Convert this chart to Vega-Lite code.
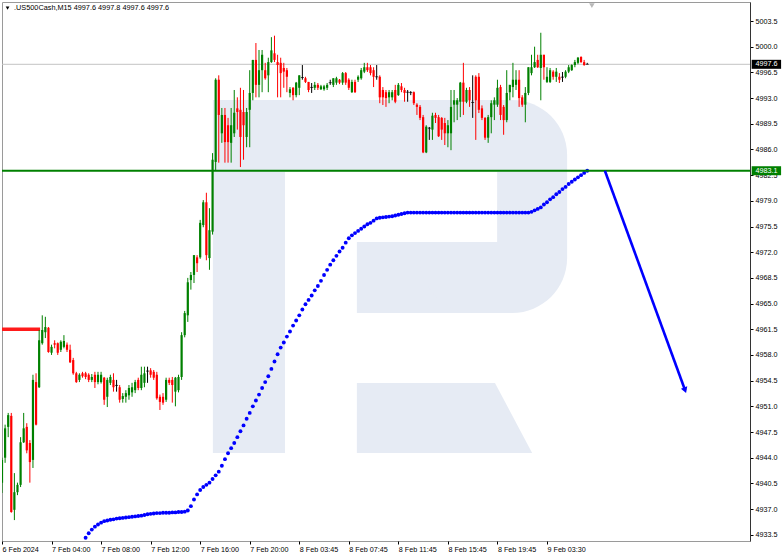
{
"$schema": "https://vega.github.io/schema/vega-lite/v6.json",
"width": 748, "height": 539,
"autosize": "none",
"padding": {"left": 2, "top": 2, "right": 32, "bottom": 14},
"background": "white",
"config": {"view": {"stroke": "#9a9a9a", "strokeWidth": 1}, "font": "Liberation Sans"},
"data": {"values": [{"one": 1}]},
"resolve": {"axis": {"x": "independent", "y": "independent"}},
"datasets": {
"candles": [
{"i":0,"o":4940.6,"h":4944.0,"l":4939.2,"c":4943.7},
{"i":1,"o":4944.0,"h":4948.5,"l":4943.3,"c":4948.0},
{"i":2,"o":4948.2,"h":4950.1,"l":4946.8,"c":4949.8},
{"i":3,"o":4949.7,"h":4950.1,"l":4936.5,"c":4936.6},
{"i":4,"o":4936.9,"h":4941.9,"l":4935.5,"c":4939.3},
{"i":5,"o":4939.3,"h":4940.6,"l":4938.9,"c":4940.3},
{"i":6,"o":4940.3,"h":4946.8,"l":4940.0,"c":4946.1},
{"i":7,"o":4946.1,"h":4950.1,"l":4946.0,"c":4948.0},
{"i":8,"o":4948.2,"h":4948.7,"l":4944.6,"c":4945.0},
{"i":9,"o":4946.0,"h":4946.4,"l":4940.6,"c":4943.4},
{"i":10,"o":4943.7,"h":4955.3,"l":4942.6,"c":4954.6},
{"i":11,"o":4954.3,"h":4955.5,"l":4948.4,"c":4948.5},
{"i":12,"o":4953.6,"h":4961.4,"l":4953.5,"c":4960.0},
{"i":13,"o":4959.6,"h":4963.4,"l":4959.4,"c":4961.4},
{"i":14,"o":4961.1,"h":4963.2,"l":4960.3,"c":4961.8},
{"i":15,"o":4961.7,"h":4961.8,"l":4958.3,"c":4958.4},
{"i":16,"o":4958.3,"h":4959.4,"l":4958.0,"c":4959.1},
{"i":17,"o":4959.6,"h":4960.0,"l":4958.9,"c":4959.4},
{"i":18,"o":4959.6,"h":4959.7,"l":4958.0,"c":4958.3},
{"i":19,"o":4958.7,"h":4960.0,"l":4958.4,"c":4959.8},
{"i":20,"o":4959.1,"h":4960.7,"l":4958.9,"c":4959.9},
{"i":21,"o":4959.4,"h":4959.7,"l":4958.4,"c":4958.7},
{"i":22,"o":4958.7,"h":4959.4,"l":4956.9,"c":4957.0},
{"i":23,"o":4957.3,"h":4957.6,"l":4955.3,"c":4955.5},
{"i":24,"o":4955.5,"h":4955.7,"l":4954.2,"c":4954.3},
{"i":25,"o":4954.6,"h":4955.5,"l":4954.3,"c":4955.3},
{"i":26,"o":4955.5,"h":4955.7,"l":4954.9,"c":4955.1},
{"i":27,"o":4955.5,"h":4955.7,"l":4954.7,"c":4955.0},
{"i":28,"o":4955.3,"h":4955.5,"l":4954.3,"c":4954.6},
{"i":29,"o":4954.6,"h":4955.4,"l":4954.3,"c":4955.0},
{"i":30,"o":4955.3,"h":4955.7,"l":4953.5,"c":4954.3},
{"i":31,"o":4954.3,"h":4955.7,"l":4954.0,"c":4955.3},
{"i":32,"o":4954.3,"h":4955.7,"l":4954.1,"c":4955.3},
{"i":33,"o":4954.9,"h":4955.0,"l":4951.2,"c":4951.9},
{"i":34,"o":4952.3,"h":4954.9,"l":4950.9,"c":4954.6},
{"i":35,"o":4954.2,"h":4955.3,"l":4953.9,"c":4955.0},
{"i":36,"o":4954.6,"h":4955.5,"l":4953.0,"c":4953.6},
{"i":37,"o":4953.85,"h":4954.6,"l":4953.0,"c":4953.85},
{"i":38,"o":4953.6,"h":4953.9,"l":4951.5,"c":4951.9},
{"i":39,"o":4952.0,"h":4952.8,"l":4951.5,"c":4952.4},
{"i":40,"o":4952.3,"h":4953.2,"l":4951.5,"c":4952.8},
{"i":41,"o":4952.5,"h":4953.9,"l":4951.9,"c":4953.5},
{"i":42,"o":4952.9,"h":4954.2,"l":4952.3,"c":4953.6},
{"i":43,"o":4953.2,"h":4954.6,"l":4952.8,"c":4954.3},
{"i":44,"o":4954.6,"h":4954.9,"l":4953.2,"c":4953.5},
{"i":45,"o":4953.5,"h":4956.4,"l":4953.2,"c":4955.3},
{"i":46,"o":4954.2,"h":4956.4,"l":4953.6,"c":4955.5},
{"i":47,"o":4955.8,"h":4956.4,"l":4954.2,"c":4955.8},
{"i":48,"o":4955.9,"h":4956.2,"l":4954.9,"c":4955.3},
{"i":49,"o":4955.7,"h":4955.95,"l":4954.6,"c":4954.9},
{"i":50,"o":4955.3,"h":4955.7,"l":4951.9,"c":4952.1},
{"i":51,"o":4952.3,"h":4952.6,"l":4950.5,"c":4951.6},
{"i":52,"o":4952.3,"h":4952.8,"l":4951.2,"c":4951.5},
{"i":53,"o":4951.9,"h":4954.9,"l":4951.6,"c":4954.6},
{"i":54,"o":4954.6,"h":4954.9,"l":4953.9,"c":4954.2},
{"i":55,"o":4954.6,"h":4955.0,"l":4951.5,"c":4953.9},
{"i":56,"o":4953.0,"h":4955.0,"l":4951.0,"c":4954.9},
{"i":57,"o":4953.2,"h":4955.3,"l":4952.9,"c":4955.0},
{"i":58,"o":4955.0,"h":4961.1,"l":4954.6,"c":4960.7},
{"i":59,"o":4960.7,"h":4964.0,"l":4960.4,"c":4963.7},
{"i":60,"o":4963.4,"h":4968.5,"l":4962.5,"c":4967.9},
{"i":61,"o":4968.2,"h":4969.3,"l":4966.9,"c":4968.9},
{"i":62,"o":4968.9,"h":4971.6,"l":4967.8,"c":4971.6},
{"i":63,"o":4971.3,"h":4971.6,"l":4969.3,"c":4970.5},
{"i":64,"o":4971.3,"h":4976.4,"l":4971.1,"c":4976.0},
{"i":65,"o":4975.7,"h":4979.1,"l":4975.4,"c":4978.8},
{"i":66,"o":4978.8,"h":4980.1,"l":4970.9,"c":4971.6},
{"i":67,"o":4971.2,"h":4978.0,"l":4969.6,"c":4975.0},
{"i":68,"o":4974.8,"h":4985.5,"l":4974.4,"c":4984.6},
{"i":69,"o":4984.3,"h":4995.7,"l":4983.2,"c":4995.5},
{"i":70,"o":4995.5,"h":4996.1,"l":4984.2,"c":4990.7},
{"i":71,"o":4988.2,"h":4991.65,"l":4986.9,"c":4990.7},
{"i":72,"o":4990.7,"h":4991.65,"l":4984.2,"c":4987.0},
{"i":73,"o":4989.3,"h":4990.3,"l":4984.2,"c":4987.0},
{"i":74,"o":4986.9,"h":4991.65,"l":4984.2,"c":4989.3},
{"i":75,"o":4988.2,"h":4994.1,"l":4987.7,"c":4991.0},
{"i":76,"o":4991.6,"h":4993.1,"l":4988.7,"c":4991.1},
{"i":77,"o":4991.4,"h":4994.4,"l":4983.6,"c":4987.7},
{"i":78,"o":4991.1,"h":4994.1,"l":4984.6,"c":4989.3},
{"i":79,"o":4987.7,"h":4991.65,"l":4986.3,"c":4991.1},
{"i":80,"o":4991.4,"h":4996.8,"l":4986.3,"c":4993.7},
{"i":81,"o":4993.7,"h":4998.2,"l":4992.7,"c":4998.2},
{"i":82,"o":4998.2,"h":5000.5,"l":4993.1,"c":4994.8},
{"i":83,"o":4994.8,"h":4999.55,"l":4993.1,"c":4996.8},
{"i":84,"o":4996.8,"h":4999.55,"l":4993.8,"c":4998.9},
{"i":85,"o":4996.8,"h":4997.8,"l":4995.5,"c":4995.7},
{"i":86,"o":4996.1,"h":4998.5,"l":4993.8,"c":4997.9},
{"i":87,"o":4997.9,"h":5001.3,"l":4997.8,"c":4999.5},
{"i":88,"o":4999.1,"h":5001.5,"l":4997.9,"c":4998.2},
{"i":89,"o":4997.9,"h":4998.9,"l":4993.1,"c":4997.5},
{"i":90,"o":4997.8,"h":4998.5,"l":4993.1,"c":4996.4},
{"i":91,"o":4997.1,"h":4997.8,"l":4994.4,"c":4996.6},
{"i":92,"o":4996.8,"h":4997.1,"l":4993.8,"c":4995.9},
{"i":93,"o":4993.7,"h":4994.5,"l":4993.1,"c":4994.2},
{"i":94,"o":4994.4,"h":4994.5,"l":4992.7,"c":4993.4},
{"i":95,"o":4993.4,"h":4995.2,"l":4993.1,"c":4995.1},
{"i":96,"o":4994.4,"h":4996.1,"l":4993.4,"c":4996.1},
{"i":97,"o":4995.8,"h":4997.5,"l":4995.5,"c":4995.8},
{"i":98,"o":4995.7,"h":4995.9,"l":4995.05,"c":4995.2},
{"i":99,"o":4995.2,"h":4995.2,"l":4993.8,"c":4994.1},
{"i":100,"o":4994.45,"h":4995.05,"l":4993.7,"c":4994.45},
{"i":101,"o":4994.4,"h":4995.2,"l":4994.1,"c":4994.8},
{"i":102,"o":4994.8,"h":4995.05,"l":4994.1,"c":4994.4},
{"i":103,"o":4994.2,"h":4994.8,"l":4994.1,"c":4994.6},
{"i":104,"o":4994.2,"h":4994.8,"l":4994.0,"c":4994.6},
{"i":105,"o":4994.4,"h":4995.05,"l":4994.1,"c":4994.8},
{"i":106,"o":4995.1,"h":4995.5,"l":4994.8,"c":4995.1},
{"i":107,"o":4994.8,"h":4995.7,"l":4994.5,"c":4995.7},
{"i":108,"o":4995.1,"h":4995.9,"l":4994.8,"c":4995.7},
{"i":109,"o":4995.5,"h":4995.6,"l":4994.9,"c":4995.1},
{"i":110,"o":4995.1,"h":4996.55,"l":4994.8,"c":4996.4},
{"i":111,"o":4996.4,"h":4996.55,"l":4994.8,"c":4995.1},
{"i":112,"o":4995.5,"h":4995.7,"l":4994.1,"c":4994.4},
{"i":113,"o":4993.8,"h":4995.5,"l":4993.7,"c":4995.2},
{"i":114,"o":4995.2,"h":4995.5,"l":4993.7,"c":4993.8},
{"i":115,"o":4995.5,"h":4996.1,"l":4995.2,"c":4995.9},
{"i":116,"o":4995.7,"h":4997.1,"l":4995.5,"c":4996.8},
{"i":117,"o":4996.6,"h":4997.8,"l":4996.4,"c":4997.2},
{"i":118,"o":4997.2,"h":4997.8,"l":4996.55,"c":4996.8},
{"i":119,"o":4997.2,"h":4997.5,"l":4996.1,"c":4996.4},
{"i":120,"o":4996.8,"h":4997.2,"l":4994.5,"c":4995.9},
{"i":121,"o":4995.9,"h":4997.5,"l":4995.5,"c":4995.9},
{"i":122,"o":4995.9,"h":4996.1,"l":4992.3,"c":4993.1},
{"i":123,"o":4994.1,"h":4994.5,"l":4992.05,"c":4993.1},
{"i":124,"o":4993.8,"h":4994.1,"l":4991.8,"c":4993.0},
{"i":125,"o":4993.1,"h":4994.1,"l":4992.3,"c":4993.8},
{"i":126,"o":4993.1,"h":4994.1,"l":4992.7,"c":4993.8},
{"i":127,"o":4994.1,"h":4994.8,"l":4992.3,"c":4992.5},
{"i":128,"o":4993.4,"h":4995.05,"l":4993.3,"c":4994.8},
{"i":129,"o":4994.6,"h":4995.05,"l":4993.8,"c":4994.1},
{"i":130,"o":4994.1,"h":4994.4,"l":4992.5,"c":4993.7},
{"i":131,"o":4993.8,"h":4994.1,"l":4992.5,"c":4993.8},
{"i":132,"o":4993.75,"h":4993.95,"l":4993.4,"c":4993.75},
{"i":133,"o":4993.8,"h":4993.9,"l":4992.05,"c":4992.3},
{"i":134,"o":4992.1,"h":4992.3,"l":4990.7,"c":4991.8},
{"i":135,"o":4991.8,"h":4992.05,"l":4990.0,"c":4990.3},
{"i":136,"o":4990.4,"h":4990.7,"l":4985.5,"c":4985.6},
{"i":137,"o":4985.6,"h":4989.3,"l":4985.5,"c":4989.1},
{"i":138,"o":4988.9,"h":4989.06,"l":4987.3,"c":4988.9},
{"i":139,"o":4988.7,"h":4991.0,"l":4987.3,"c":4990.6},
{"i":140,"o":4990.7,"h":4991.0,"l":4989.6,"c":4990.3},
{"i":141,"o":4990.4,"h":4990.7,"l":4987.7,"c":4987.8},
{"i":142,"o":4990.3,"h":4990.4,"l":4987.3,"c":4988.7},
{"i":143,"o":4989.6,"h":4990.3,"l":4986.6,"c":4988.2},
{"i":144,"o":4988.2,"h":4990.0,"l":4986.3,"c":4989.3},
{"i":145,"o":4988.2,"h":4994.1,"l":4985.9,"c":4991.8},
{"i":146,"o":4992.1,"h":4994.1,"l":4989.7,"c":4992.7},
{"i":147,"o":4992.1,"h":4993.0,"l":4990.0,"c":4992.7},
{"i":148,"o":4992.5,"h":4995.2,"l":4990.4,"c":4995.1},
{"i":149,"o":4995.1,"h":4997.8,"l":4990.7,"c":4992.5},
{"i":150,"o":4992.5,"h":4994.4,"l":4992.3,"c":4994.1},
{"i":151,"o":4994.1,"h":4994.5,"l":4991.8,"c":4992.7},
{"i":152,"o":4992.4,"h":4996.1,"l":4990.3,"c":4992.4},
{"i":153,"o":4995.9,"h":4996.1,"l":4987.3,"c":4992.7},
{"i":154,"o":4995.9,"h":4996.4,"l":4990.96,"c":4991.4},
{"i":155,"o":4991.6,"h":4992.0,"l":4990.0,"c":4990.3},
{"i":156,"o":4990.3,"h":4990.4,"l":4987.3,"c":4987.6},
{"i":157,"o":4987.6,"h":4990.7,"l":4986.9,"c":4990.4},
{"i":158,"o":4990.4,"h":4992.7,"l":4988.2,"c":4992.3},
{"i":159,"o":4992.1,"h":4993.1,"l":4990.0,"c":4992.7},
{"i":160,"o":4992.1,"h":4995.5,"l":4991.8,"c":4994.4},
{"i":161,"o":4994.5,"h":4994.8,"l":4990.0,"c":4990.7},
{"i":162,"o":4991.8,"h":4992.05,"l":4988.0,"c":4990.0},
{"i":163,"o":4990.0,"h":4996.8,"l":4989.7,"c":4993.7},
{"i":164,"o":4993.8,"h":4994.8,"l":4992.7,"c":4994.8},
{"i":165,"o":4994.5,"h":4997.8,"l":4993.1,"c":4995.5},
{"i":166,"o":4994.8,"h":4996.8,"l":4994.1,"c":4995.5},
{"i":167,"o":4995.5,"h":4996.8,"l":4991.8,"c":4993.0},
{"i":168,"o":4993.1,"h":4993.4,"l":4991.8,"c":4992.1},
{"i":169,"o":4992.1,"h":4994.5,"l":4989.7,"c":4993.7},
{"i":170,"o":4993.7,"h":4997.2,"l":4993.4,"c":4997.2},
{"i":171,"o":4996.4,"h":4998.9,"l":4996.1,"c":4997.2},
{"i":172,"o":4997.2,"h":5000.0,"l":4997.1,"c":4997.9},
{"i":173,"o":4998.2,"h":4998.9,"l":4997.1,"c":4997.2},
{"i":174,"o":4997.1,"h":5001.9,"l":4992.7,"c":4998.9},
{"i":175,"o":4998.9,"h":4998.9,"l":4995.5,"c":4997.2},
{"i":176,"o":4995.2,"h":4997.2,"l":4995.05,"c":4995.9},
{"i":177,"o":4995.2,"h":4997.1,"l":4995.05,"c":4996.8},
{"i":178,"o":4996.6,"h":4996.8,"l":4995.5,"c":4995.9},
{"i":179,"o":4995.9,"h":4997.1,"l":4995.2,"c":4996.6},
{"i":180,"o":4995.9,"h":4996.4,"l":4995.05,"c":4995.5},
{"i":181,"o":4995.85,"h":4996.55,"l":4995.2,"c":4995.85},
{"i":182,"o":4995.9,"h":4996.8,"l":4995.7,"c":4996.6},
{"i":183,"o":4996.6,"h":4997.5,"l":4996.4,"c":4997.2},
{"i":184,"o":4996.8,"h":4997.6,"l":4996.7,"c":4997.5},
{"i":185,"o":4997.5,"h":4998.2,"l":4997.2,"c":4997.9},
{"i":186,"o":4997.8,"h":4998.6,"l":4997.6,"c":4998.5},
{"i":187,"o":4998.6,"h":4998.7,"l":4997.8,"c":4997.9},
{"i":188,"o":4997.9,"h":4998.2,"l":4997.4,"c":4997.5},
{"i":189,"o":4997.6,"h":4997.8,"l":4997.6,"c":4997.6}
],
"ma": [
{"i":27,"v":4933.1},{"i":28,"v":4933.7},{"i":29,"v":4934.2},{"i":30,"v":4934.6},{"i":31,"v":4934.9},{"i":32,"v":4935.15},{"i":33,"v":4935.35},{"i":34,"v":4935.45},{"i":35,"v":4935.55},{"i":36,"v":4935.6},{"i":37,"v":4935.7},{"i":38,"v":4935.75},{"i":39,"v":4935.8},{"i":40,"v":4935.85},{"i":41,"v":4935.9},{"i":42,"v":4935.95},{"i":43,"v":4936.0},{"i":44,"v":4936.05},{"i":45,"v":4936.1},{"i":46,"v":4936.2},{"i":47,"v":4936.3},{"i":48,"v":4936.35},{"i":49,"v":4936.4},{"i":50,"v":4936.45},{"i":51,"v":4936.45},{"i":52,"v":4936.5},{"i":53,"v":4936.5},{"i":54,"v":4936.5},{"i":55,"v":4936.55},{"i":56,"v":4936.55},{"i":57,"v":4936.6},{"i":58,"v":4936.6},{"i":59,"v":4936.65},{"i":60,"v":4936.8},{"i":61,"v":4937.4},{"i":62,"v":4938.3},{"i":63,"v":4939.0},{"i":64,"v":4939.6},{"i":65,"v":4940.0},{"i":66,"v":4940.3},{"i":67,"v":4940.6},{"i":68,"v":4941.1},{"i":69,"v":4941.6},{"i":70,"v":4942.1},{"i":71,"v":4942.9},{"i":72,"v":4943.8},{"i":73,"v":4944.6},{"i":74,"v":4945.3},{"i":75,"v":4946.0},{"i":76,"v":4946.8},{"i":77,"v":4947.6},{"i":78,"v":4948.4},{"i":79,"v":4949.3},{"i":80,"v":4950.1},{"i":81,"v":4951.0},{"i":82,"v":4951.8},{"i":83,"v":4952.6},{"i":84,"v":4953.5},{"i":85,"v":4954.3},{"i":86,"v":4955.1},{"i":87,"v":4956.1},{"i":88,"v":4957.1},{"i":89,"v":4958.1},{"i":90,"v":4959.0},{"i":91,"v":4959.7},{"i":92,"v":4960.5},{"i":93,"v":4961.2},{"i":94,"v":4962.0},{"i":95,"v":4962.7},{"i":96,"v":4963.4},{"i":97,"v":4964.2},{"i":98,"v":4964.9},{"i":99,"v":4965.5},{"i":100,"v":4966.1},{"i":101,"v":4966.8},{"i":102,"v":4967.4},{"i":103,"v":4968.1},{"i":104,"v":4968.9},{"i":105,"v":4969.6},{"i":106,"v":4970.3},{"i":107,"v":4970.9},{"i":108,"v":4971.5},{"i":109,"v":4972.1},{"i":110,"v":4972.6},{"i":111,"v":4973.3},{"i":112,"v":4973.9},{"i":113,"v":4974.3},{"i":114,"v":4974.6},{"i":115,"v":4974.9},{"i":116,"v":4975.2},{"i":117,"v":4975.5},{"i":118,"v":4975.8},{"i":119,"v":4976.0},{"i":120,"v":4976.3},{"i":121,"v":4976.6},{"i":122,"v":4976.7},{"i":123,"v":4976.75},{"i":124,"v":4976.8},{"i":125,"v":4976.85},{"i":126,"v":4976.9},{"i":127,"v":4977.0},{"i":128,"v":4977.1},{"i":129,"v":4977.2},{"i":130,"v":4977.3},
{"i":131,"v":4977.4},{"i":132,"v":4977.4},{"i":133,"v":4977.4},{"i":134,"v":4977.4},{"i":135,"v":4977.4},{"i":136,"v":4977.4},{"i":137,"v":4977.4},{"i":138,"v":4977.4},{"i":139,"v":4977.4},{"i":140,"v":4977.4},{"i":141,"v":4977.4},{"i":142,"v":4977.4},{"i":143,"v":4977.4},{"i":144,"v":4977.4},{"i":145,"v":4977.4},{"i":146,"v":4977.4},{"i":147,"v":4977.4},{"i":148,"v":4977.4},{"i":149,"v":4977.4},{"i":150,"v":4977.4},{"i":151,"v":4977.4},{"i":152,"v":4977.4},{"i":153,"v":4977.4},{"i":154,"v":4977.4},{"i":155,"v":4977.4},{"i":156,"v":4977.4},{"i":157,"v":4977.4},{"i":158,"v":4977.4},{"i":159,"v":4977.4},{"i":160,"v":4977.4},{"i":161,"v":4977.4},{"i":162,"v":4977.4},{"i":163,"v":4977.4},{"i":164,"v":4977.4},{"i":165,"v":4977.4},{"i":166,"v":4977.4},{"i":167,"v":4977.4},{"i":168,"v":4977.4},{"i":169,"v":4977.4},{"i":170,"v":4977.4},
{"i":171,"v":4977.5},{"i":172,"v":4977.7},{"i":173,"v":4977.9},{"i":174,"v":4978.1},{"i":175,"v":4978.5},{"i":176,"v":4978.8},{"i":177,"v":4979.2},{"i":178,"v":4979.5},{"i":179,"v":4979.9},{"i":180,"v":4980.2},{"i":181,"v":4980.6},{"i":182,"v":4980.9},{"i":183,"v":4981.3},{"i":184,"v":4981.6},{"i":185,"v":4981.9},{"i":186,"v":4982.2},{"i":187,"v":4982.5},{"i":188,"v":4982.8},{"i":189,"v":4983.1}
],
"leg": [
{"p":4954.18,"a":114.6,"b":159.2},
{"p":4944.64,"a":114.6,"b":171.2}
],
"levels": [
{"level":4997.6,"label":"4997.6","box":"#000000"},
{"level":4983.1,"label":"4983.1","box":"#008000"}
]
},
"layer": [
{
"mark": {"type":"rect","color":"#e6ebf4"},
"encoding": {
"x": {"datum":68.1,"type":"quantitative","scale":{"domain":[0,241.56],"nice":false,"zero":false},"axis":null},
"x2": {"datum":91.4},
"y": {"datum":4992.74,"type":"quantitative","scale":{"domain":[4932.65,5006.09],"nice":false,"zero":false},"axis":null},
"y2": {"datum":4944.64}
}
},
{
"mark": {"type":"rect","color":"#e6ebf4"},
"encoding": {
"x": {"datum":91.4,"type":"quantitative","scale":{"domain":[0,241.56],"nice":false,"zero":false},"axis":null},
"x2": {"datum":155},
"y": {"datum":4992.74,"type":"quantitative","scale":{"domain":[4932.65,5006.09],"nice":false,"zero":false},"axis":null},
"y2": {"datum":4982.93}
}
},
{
"mark": {"type":"rect","color":"#e6ebf4"},
"encoding": {
"x": {"datum":114.6,"type":"quantitative","scale":{"domain":[0,241.56],"nice":false,"zero":false},"axis":null},
"x2": {"datum":155},
"y": {"datum":4973.39,"type":"quantitative","scale":{"domain":[4932.65,5006.09],"nice":false,"zero":false},"axis":null},
"y2": {"datum":4963.72}
}
},
{
"mark": {"type":"rect","color":"#e6ebf4","cornerRadius":55},
"encoding": {
"x": {"datum":135,"type":"quantitative","scale":{"domain":[0,241.56],"nice":false,"zero":false},"axis":null},
"x2": {"datum":182.5},
"y": {"datum":4992.74,"type":"quantitative","scale":{"domain":[4932.65,5006.09],"nice":false,"zero":false},"axis":null},
"y2": {"datum":4963.72}
}
},
{
"mark": {"type":"rect","color":"#ffffff"},
"encoding": {
"x": {"datum":130,"type":"quantitative","scale":{"domain":[0,241.56],"nice":false,"zero":false},"axis":null},
"x2": {"datum":159.9},
"y": {"datum":4982.93,"type":"quantitative","scale":{"domain":[4932.65,5006.09],"nice":false,"zero":false},"axis":null},
"y2": {"datum":4973.39}
}
},
{
"data": {"name":"leg"},
"mark": {"type":"area","orient":"horizontal","color":"#e6ebf4"},
"encoding": {
"y": {"field":"p","type":"quantitative","scale":{"domain":[4932.65,5006.09],"nice":false,"zero":false},"axis":null},
"x": {"field":"a","type":"quantitative","scale":{"domain":[0,241.56],"nice":false,"zero":false},"axis":null},
"x2": {"field":"b"}
}
},
{
"mark": {"type":"rule","color":"#c4c4c4","strokeWidth":1},
"encoding": {
"y": {"datum":4997.6,"type":"quantitative","scale":{"domain":[4932.65,5006.09],"nice":false,"zero":false},"axis":null}
}
},
{
"mark": {"type":"rule","color":"#ff1a1a","strokeWidth":3.6},
"encoding": {
"x": {"datum":0,"type":"quantitative","scale":{"domain":[0,241.56],"nice":false,"zero":false},"axis":null},
"x2": {"datum":12.3},
"y": {"datum":4961.5,"type":"quantitative","scale":{"domain":[4932.65,5006.09],"nice":false,"zero":false},"axis":null}
}
},
{
"data": {"name":"candles"},
"mark": {"type":"rule","strokeWidth":1,"clip":true},
"encoding": {
"x": {"field":"i","type":"quantitative","scale":{"domain":[0,241.56],"nice":false,"zero":false},
 "axis":{"values":[0,16,32,48,64,80,96,112,128,144,160,176],
 "labelExpr":"['6 Feb 2024','7 Feb 04:00','7 Feb 08:00','7 Feb 12:00','7 Feb 16:00','7 Feb 20:00','8 Feb 03:45','8 Feb 07:45','8 Feb 11:45','8 Feb 15:45','8 Feb 19:45','9 Feb 03:30'][round(datum.value/16)]",
 "labelAlign":"left","labelBaseline":"top","labelDx":1,"labelPadding":1,"tickSize":3,"tickColor":"#000000","labelColor":"#000000","labelFontSize":7.2,"labelFont":"Liberation Sans","domain":false,"grid":false,"title":null,"labelFlush":false,"labelOverlap":false,"labelBound":false}},
"y": {"field":"l","type":"quantitative","scale":{"domain":[4932.65,5006.09],"nice":false,"zero":false},
 "axis":{"orient":"right","values":[4933.5,4937,4940.5,4944,4947.5,4951,4954.5,4958,4961.5,4965,4968.5,4972,4975.5,4979,4982.5,4986,4989.5,4993,4996.5,5000,5003.5],
 "format":".1f","tickSize":3,"tickColor":"#000000","labelPadding":2,"labelColor":"#000000","labelFontSize":7.2,"labelFont":"Liberation Sans","domain":true,"domainColor":"#333333","grid":false,"title":null,"labelOverlap":false,"labelBound":false,"labelFlush":false}},
"y2": {"field":"h"},
"color": {"condition":[{"test":"datum.c == datum.o","value":"#000000"},{"test":"datum.c > datum.o","value":"#008000"}],"value":"#ff0000"}
}
},
{
"data": {"name":"candles"},
"transform": [{"filter":"datum.c != datum.o"}],
"mark": {"type":"rule","strokeWidth":2.2,"clip":true},
"encoding": {
"x": {"field":"i","type":"quantitative","scale":{"domain":[0,241.56],"nice":false,"zero":false},"axis":null},
"y": {"field":"o","type":"quantitative","scale":{"domain":[4932.65,5006.09],"nice":false,"zero":false},"axis":null},
"y2": {"field":"c"},
"color": {"condition":{"test":"datum.c > datum.o","value":"#008000"},"value":"#ff0000"}
}
},
{
"data": {"name":"candles"},
"transform": [{"filter":"datum.c == datum.o"}],
"mark": {"type":"tick","orient":"horizontal","size":3,"thickness":1,"color":"#000000","clip":true},
"encoding": {
"x": {"field":"i","type":"quantitative","scale":{"domain":[0,241.56],"nice":false,"zero":false},"axis":null},
"y": {"field":"c","type":"quantitative","scale":{"domain":[4932.65,5006.09],"nice":false,"zero":false},"axis":null}
}
},
{
"data": {"name":"ma"},
"mark": {"type":"point","filled":true,"size":15,"color":"#0000ff","opacity":1,"clip":true},
"encoding": {
"x": {"field":"i","type":"quantitative","scale":{"domain":[0,241.56],"nice":false,"zero":false},"axis":null},
"y": {"field":"v","type":"quantitative","scale":{"domain":[4932.65,5006.09],"nice":false,"zero":false},"axis":null}
}
},
{
"mark": {"type":"rule","color":"#008000","strokeWidth":2},
"encoding": {
"y": {"datum":4983.1,"type":"quantitative","scale":{"domain":[4932.65,5006.09],"nice":false,"zero":false},"axis":null}
}
},
{
"mark": {"type":"rule","color":"#0000ff","strokeWidth":2.6},
"encoding": {
"x": {"datum":194.7,"type":"quantitative","scale":{"domain":[0,241.56],"nice":false,"zero":false},"axis":null},
"x2": {"datum":220.6},
"y": {"datum":4983.1,"type":"quantitative","scale":{"domain":[4932.65,5006.09],"nice":false,"zero":false},"axis":null},
"y2": {"datum":4953.19}
}
},
{
"mark": {"type":"point","shape":"triangle-down","filled":true,"size":45,"angle":-20,"color":"#0000ff","opacity":1},
"encoding": {
"x": {"datum":220.6,"type":"quantitative","scale":{"domain":[0,241.56],"nice":false,"zero":false},"axis":null},
"y": {"datum":4953.19,"type":"quantitative","scale":{"domain":[4932.65,5006.09],"nice":false,"zero":false},"axis":null}
}
},
{
"mark": {"type":"point","shape":"triangle-down","filled":true,"size":30,"color":"#b8b8b8","opacity":1},
"encoding": {
"x": {"datum":190.5,"type":"quantitative","scale":{"domain":[0,241.56],"nice":false,"zero":false},"axis":null},
"y": {"datum":5005.6,"type":"quantitative","scale":{"domain":[4932.65,5006.09],"nice":false,"zero":false},"axis":null}
}
},
{
"data": {"name":"levels"},
"mark": {"type":"rect","height":9},
"encoding": {
"x": {"datum":242.1,"type":"quantitative","scale":{"domain":[0,241.56],"nice":false,"zero":false},"axis":null},
"x2": {"datum":251.6},
"y": {"field":"level","type":"quantitative","scale":{"domain":[4932.65,5006.09],"nice":false,"zero":false},"axis":null},
"color": {"field":"box","type":"nominal","scale":null,"legend":null}
}
},
{
"data": {"name":"levels"},
"mark": {"type":"text","color":"#ffffff","fontSize":7.2,"font":"Liberation Sans","align":"center","baseline":"middle"},
"encoding": {
"x": {"datum":246.85,"type":"quantitative","scale":{"domain":[0,241.56],"nice":false,"zero":false},"axis":null},
"y": {"field":"level","type":"quantitative","scale":{"domain":[4932.65,5006.09],"nice":false,"zero":false},"axis":null},
"text": {"field":"label"}
}
},
{
"mark": {"type":"point","shape":"triangle-down","filled":true,"size":14,"color":"#000000","opacity":1},
"encoding": {
"x": {"datum":1.8,"type":"quantitative","scale":{"domain":[0,241.56],"nice":false,"zero":false},"axis":null},
"y": {"datum":5005.27,"type":"quantitative","scale":{"domain":[4932.65,5006.09],"nice":false,"zero":false},"axis":null}
}
},
{
"mark": {"type":"text","color":"#000000","fontSize":7.3,"font":"Liberation Sans","align":"left","baseline":"middle"},
"encoding": {
"x": {"datum":3.9,"type":"quantitative","scale":{"domain":[0,241.56],"nice":false,"zero":false},"axis":null},
"y": {"datum":5005.3,"type":"quantitative","scale":{"domain":[4932.65,5006.09],"nice":false,"zero":false},"axis":null},
"text": {"value":".US500Cash,M15  4997.6 4997.8 4997.6 4997.6"}
}
}
]
}
